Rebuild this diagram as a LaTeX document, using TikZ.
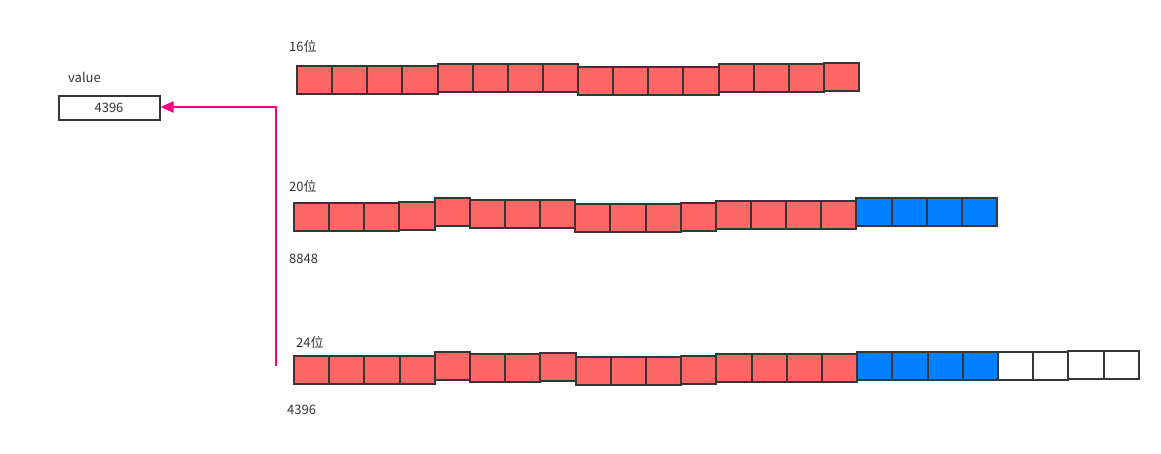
\documentclass[tikz,border=0pt]{standalone}
\usepackage{fontspec}
\setmainfont{Noto Sans CJK SC}
\usetikzlibrary{arrows.meta}
\definecolor{cred}{HTML}{FF6666}
\definecolor{cblue}{HTML}{007FFF}
\definecolor{cwhite}{HTML}{FFFFFF}
\definecolor{cline}{HTML}{363636}
\definecolor{ctext}{HTML}{333333}
\definecolor{cpink}{HTML}{FF0080}
\begin{document}
\begin{tikzpicture}[x=1pt,y=-1pt,
  cell/.style={draw=cline,line width=2pt,inner sep=0pt,anchor=north west,minimum height=28pt},
  lbl/.style={text=ctext,font=\fontsize{13pt}{15pt}\selectfont,inner sep=0pt,anchor=west},
  valbox/.style={draw=cline,line width=2pt,fill=white,inner sep=0pt,minimum width=101pt,minimum height=24pt,text=ctext,font=\fontsize{13pt}{15pt}\selectfont},
  link/.style={draw=cpink,line width=2pt,-{Triangle[length=13pt,width=11pt]}}]
\useasboundingbox (0,0) rectangle (1161,453);
% row 1
\foreach \t/\c [count=\i] in {65/cred,65/cred,65/cred,64.5/cred,63/cred,63/cred,63/cred,62.5/cred,66/cred,66/cred,66/cred,65.5/cred,63/cred,63/cred,63/cred,62/cred}
  {\node[cell,fill=\c,minimum width=35.125pt] (a\i) at ({296+(\i-1)*35.125},\t) {};}
% row 2
\foreach \t/\c [count=\i] in {202/cred,202/cred,202/cred,201/cred,197/cred,199/cred,199/cred,199/cred,203/cred,203/cred,203/cred,202/cred,200/cred,200/cred,200/cred,199.5/cred,197/cblue,197/cblue,196.5/cblue,196.5/cblue}
  {\node[cell,fill=\c,minimum width=35.15pt] (b\i) at ({293+(\i-1)*35.15},\t) {};}
% row 3
\foreach \t/\c [count=\i] in {355/cred,355/cred,355/cred,354.5/cred,350.5/cred,352.5/cred,352.5/cred,352/cred,356/cred,356/cred,356/cred,355/cred,353/cred,353/cred,353/cred,352.5/cred,351/cblue,351/cblue,350.5/cblue,350.5/cblue,351/cwhite,351/cwhite,350/cwhite,350/cwhite}
  {\node[cell,fill=\c,minimum width=35.2pt] (c\i) at ({293+(\i-1)*35.2},\t) {};}
% labels
\node[lbl] (l16) at (289,46) {16位};
\node[lbl] (l20) at (289,186) {20位};
\node[lbl] (l24) at (296,342) {24位};
\node[lbl] (n8848) at (289,259) {8848};
\node[lbl] (n4396) at (287,410) {4396};
\node[lbl] (lval) at (68,77) {value};
\node[valbox] (val) at (109,108) {4396};
% connector
\coordinate (src) at (276,366);
\draw[link] (src) -- (276,107) -- (val.east |- 0,107);
\end{tikzpicture}
\end{document}
